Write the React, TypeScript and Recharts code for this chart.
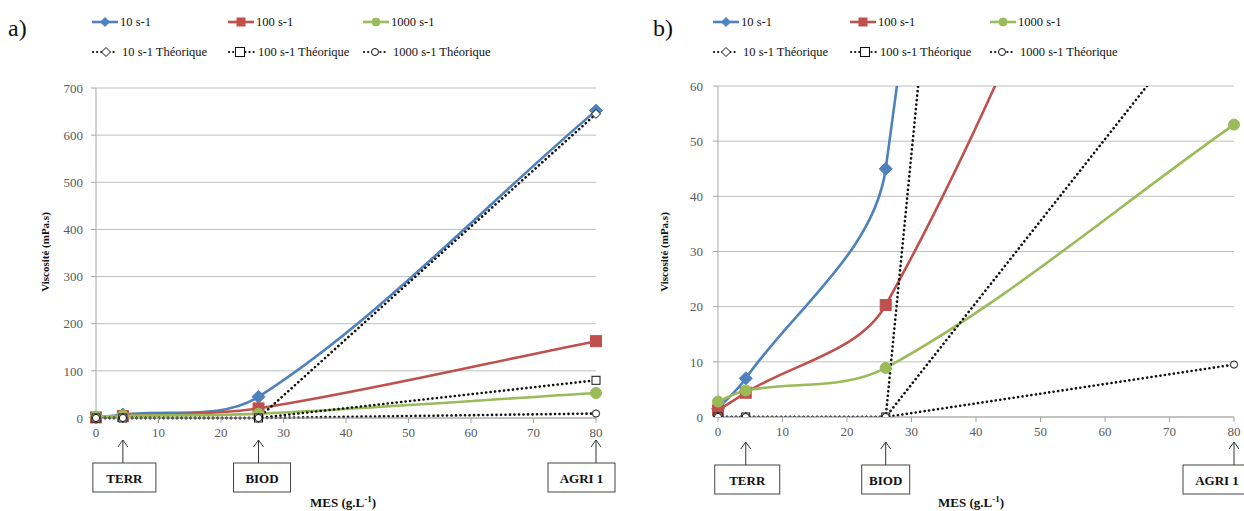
import React from 'react';
import { LineChart, Line, XAxis, YAxis, CartesianGrid, ReferenceDot } from 'recharts';

// ---- data ----
const mes = [0, 4.3, 26, 80];
const visc10 = [1.5, 7, 45, 652];
const visc100 = [1.2, 4.4, 20.3, 163];
const visc1000 = [2.8, 4.8, 8.9, 53];
const theo10 = [0, 0, 0, 645];
const theo100 = [0, 0, 0, 80];
const theo1000 = [0, 0, 0, 9.5];
const xTicks = [0, 10, 20, 30, 40, 50, 60, 70, 80];
const yTicksA = [0, 100, 200, 300, 400, 500, 600, 700];
const yTicksB = [0, 10, 20, 30, 40, 50, 60];
const seriesNames = ['10 s-1', '100 s-1', '1000 s-1'];
const theoNames = ['10 s-1 Théorique', '100 s-1 Théorique', '1000 s-1 Théorique'];
const siteX = [4.3, 26, 80];
const siteLabels = ['TERR', 'BIOD', 'AGRI 1'];

const data = mes.map((x, i) => ({
  x,
  s10: visc10[i],
  s100: visc100[i],
  s1000: visc1000[i],
  t10: theo10[i],
  t100: theo100[i],
  t1000: theo1000[i],
}));

const FONT = '"Liberation Serif", "Times New Roman", serif';
const BLUE = '#4F81BD';
const RED = '#C0504D';
const GREEN = '#9BBB59';

// Excel-like smoothed curve (Bezier with chord-length scaled tangents)
function excelSmooth(context: any) {
  let pts: number[][] = [];
  return {
    areaStart() {},
    areaEnd() {},
    lineStart() {
      pts = [];
    },
    point(x: number, y: number) {
      pts.push([+x, +y]);
    },
    lineEnd() {
      const n = pts.length;
      if (!n) return;
      context.moveTo(pts[0][0], pts[0][1]);
      if (n === 1) return;
      const d = (a: number[], b: number[]) => Math.hypot(b[0] - a[0], b[1] - a[1]);
      for (let i = 0; i < n - 1; i++) {
        const p0 = pts[i - 1] ?? pts[i];
        const p1 = pts[i];
        const p2 = pts[i + 1];
        const p3 = pts[i + 2] ?? pts[i + 1];
        const d01 = d(p0, p1);
        const d12 = d(p1, p2);
        const d23 = d(p2, p3);
        const f1 = d01 + d12 > 0 ? d12 / (d01 + d12) / 3 : 0;
        const f2 = d12 + d23 > 0 ? d12 / (d12 + d23) / 3 : 0;
        const c1x = p1[0] + (p2[0] - p0[0]) * f1;
        const c1y = p1[1] + (p2[1] - p0[1]) * f1;
        const c2x = p2[0] - (p3[0] - p1[0]) * f2;
        const c2y = p2[1] - (p3[1] - p1[1]) * f2;
        context.bezierCurveTo(c1x, c1y, c2x, c2y, p2[0], p2[1]);
      }
    },
  };
}

type Kind = 'diamond' | 'square' | 'circle';

function markerEl(kind: Kind, cx: number, cy: number, s: number, fill: string, stroke: string, key?: any) {
  if (kind === 'diamond') {
    return (
      <path key={key} d={`M${cx},${cy - s}L${cx + s},${cy}L${cx},${cy + s}L${cx - s},${cy}Z`} fill={fill} stroke={stroke} strokeWidth={1} />
    );
  }
  if (kind === 'square') {
    return <rect key={key} x={cx - s} y={cy - s} width={2 * s} height={2 * s} fill={fill} stroke={stroke} strokeWidth={1} />;
  }
  return <circle key={key} cx={cx} cy={cy} r={s} fill={fill} stroke={stroke} strokeWidth={1} />;
}

const dotFn = (kind: Kind, s: number, fill: string, stroke: string) => (p: any) => {
  const { cx, cy, index } = p;
  if (cx == null || cy == null || isNaN(cx) || isNaN(cy)) return <g key={`e${index}`} />;
  return markerEl(kind, cx, cy, s, fill, stroke, `m${index}`);
};

const siteShape = (label: string, dx: number, w: number, arrowOff: number, boxOff: number) => (props: any) => {
  const { cx, cy } = props;
  if (cx == null || cy == null) return <g />;
  const aTop = cy + arrowOff;
  const bTop = cy + boxOff;
  const h = 29;
  const left = cx + dx;
  return (
    <g>
      <line x1={cx} y1={aTop} x2={cx} y2={bTop} stroke="#333" strokeWidth={1} />
      <polyline points={`${cx - 5},${aTop + 7} ${cx},${aTop} ${cx + 5},${aTop + 7}`} fill="none" stroke="#333" strokeWidth={1} />
      <rect x={left} y={bTop} width={w} height={h} fill="#fff" stroke="#444" strokeWidth={1} />
      <text x={left + w / 2} y={bTop + h / 2 + 1} textAnchor="middle" dominantBaseline="central" fontWeight="bold" fontSize={13} fontFamily={FONT} fill="#111">
        {label}
      </text>
    </g>
  );
};

const xTick = (p: any) => (
  <text x={p.x} y={p.y} dy="0.71em" textAnchor="middle" fontSize={13} fontFamily={FONT} fill="#595959">
    {p.payload.value}
  </text>
);
const yTick = (p: any) => (
  <text x={p.x} y={p.y} dy="0.36em" textAnchor="end" fontSize={13} fontFamily={FONT} fill="#595959">
    {p.payload.value}
  </text>
);

const DOTTED = '0.1 4.4';

function Panel(props: {
  yMax: number;
  yTicks: number[];
  width: number;
  margin: any;
  tickGap: number;
  boxes: { dx: number; w: number }[];
  arrowOff: number;
  boxOff: number;
  clip: boolean;
}) {
  const { yMax, yTicks, width, margin, tickGap, boxes, arrowOff, boxOff, clip } = props;
  return (
    <LineChart width={width} height={511} data={data} margin={margin}>
      <CartesianGrid vertical={false} stroke="#BFBFBF" strokeWidth={1} />
      <XAxis
        type="number"
        dataKey="x"
        domain={[0, 80]}
        ticks={xTicks}
        height={30}
        tick={xTick}
        tickSize={5}
        tickMargin={5}
        axisLine={{ stroke: '#A6A6A6' }}
        tickLine={{ stroke: '#A6A6A6' }}
      />
      <YAxis
        type="number"
        domain={[0, yMax]}
        ticks={yTicks}
        width={40}
        allowDataOverflow={clip}
        tick={yTick}
        tickSize={5}
        tickMargin={tickGap}
        axisLine={{ stroke: '#A6A6A6' }}
        tickLine={{ stroke: '#A6A6A6' }}
      />
      <Line dataKey="s10" type={excelSmooth as any} stroke={BLUE} strokeWidth={2.6} dot={dotFn('diamond', 6.5, BLUE, BLUE)} activeDot={false} isAnimationActive={false} />
      <Line dataKey="s100" type={excelSmooth as any} stroke={RED} strokeWidth={2.6} dot={dotFn('square', 5.5, RED, RED)} activeDot={false} isAnimationActive={false} />
      <Line dataKey="s1000" type={excelSmooth as any} stroke={GREEN} strokeWidth={2.6} dot={dotFn('circle', 5.5, GREEN, GREEN)} activeDot={false} isAnimationActive={false} />
      <Line dataKey="t10" type="linear" stroke="#111" strokeWidth={2.6} strokeDasharray={DOTTED} strokeLinecap="round" dot={dotFn('diamond', 4.5, '#fff', '#111')} activeDot={false} isAnimationActive={false} />
      <Line dataKey="t100" type="linear" stroke="#111" strokeWidth={2.6} strokeDasharray={DOTTED} strokeLinecap="round" dot={dotFn('square', 4, '#fff', '#111')} activeDot={false} isAnimationActive={false} />
      <Line dataKey="t1000" type="linear" stroke="#111" strokeWidth={2.6} strokeDasharray={DOTTED} strokeLinecap="round" dot={dotFn('circle', 3.6, '#fff', '#111')} activeDot={false} isAnimationActive={false} />
      {siteX.map((sx, i) => (
        <ReferenceDot
          key={siteLabels[i]}
          x={sx}
          y={0}
          ifOverflow="visible"
          shape={siteShape(siteLabels[i], boxes[i].dx, boxes[i].w, arrowOff, boxOff)}
        />
      ))}
    </LineChart>
  );
}

function LegendItem(props: { left: number; top: number; color: string; kind: Kind; solid: boolean; iconW: number; markX: number; label: string; textX: number }) {
  const { left, top, color, kind, solid, iconW, markX, label, textX } = props;
  return (
    <div style={{ position: 'absolute', left, top: top - 8, height: 16, width: 160 }}>
      <svg width={iconW + 2} height={16} style={{ position: 'absolute', left: 0, top: 0, overflow: 'visible' }}>
        {solid ? (
          <line x1={0} y1={8} x2={iconW} y2={8} stroke={color} strokeWidth={2.6} />
        ) : (
          <line x1={1} y1={8} x2={iconW} y2={8} stroke="#111" strokeWidth={2.2} strokeDasharray="0.1 4" strokeLinecap="round" />
        )}
        {solid
          ? markerEl(kind, markX, 8, kind === 'diamond' ? 4.5 : 4, color, color)
          : markerEl(kind, markX, 8, kind === 'diamond' ? 4.5 : kind === 'square' ? 4.5 : 3.5, '#fff', '#111')}
      </svg>
      <span style={{ position: 'absolute', left: textX, top: 0, lineHeight: '16px', fontSize: 12.5, fontFamily: FONT, color: '#111', whiteSpace: 'nowrap' }}>
        {label}
      </span>
    </div>
  );
}

function Legend(props: { x0: number[]; xRow2: { mark: number; text: number; w: number }[] }) {
  const colors = [BLUE, RED, GREEN];
  const kinds: Kind[] = ['diamond', 'square', 'circle'];
  return (
    <>
      {seriesNames.map((n, i) => (
        <LegendItem key={n} left={props.x0[i]} top={22} color={colors[i]} kind={kinds[i]} solid iconW={26} markX={13} label={n} textX={28} />
      ))}
      {theoNames.map((n, i) => (
        <LegendItem
          key={n}
          left={props.x0[i]}
          top={52}
          color="#111"
          kind={kinds[i]}
          solid={false}
          iconW={props.xRow2[i].w}
          markX={props.xRow2[i].mark}
          label={n}
          textX={props.xRow2[i].text}
        />
      ))}
    </>
  );
}

function AxisTitles(props: { yLabelX: number; xLabelX: number }) {
  return (
    <>
      <div
        style={{
          position: 'absolute',
          left: props.yLabelX - 60,
          top: 252 - 7,
          width: 120,
          height: 14,
          lineHeight: '14px',
          textAlign: 'center',
          transform: 'rotate(-90deg)',
          fontSize: 11,
          fontWeight: 'bold',
          fontFamily: FONT,
          color: '#111',
        }}
      >
        Viscosité (mPa.s)
      </div>
      <div
        style={{
          position: 'absolute',
          left: props.xLabelX,
          top: 496,
          lineHeight: '14px',
          fontSize: 13,
          fontWeight: 'bold',
          fontFamily: FONT,
          color: '#111',
          whiteSpace: 'nowrap',
        }}
      >
        MES (g.L<span style={{ fontSize: 9, position: 'relative', top: -5 }}>-1</span>)
      </div>
    </>
  );
}

export default function App() {
  return (
    <div style={{ position: 'absolute', left: 0, top: 0, width: 1244, height: 511, background: '#fff', overflow: 'hidden', fontFamily: FONT }}>
      <div style={{ position: 'absolute', left: 0, top: 0 }}>
        <Panel
          yMax={700}
          yTicks={yTicksA}
          width={620}
          margin={{ top: 88, right: 24, left: 56, bottom: 63 }}
          tickGap={8}
          boxes={[{ dx: -30, w: 63 }, { dx: -25, w: 57 }, { dx: -48, w: 67 }]}
          arrowOff={22}
          boxOff={45}
          clip={false}
        />
      </div>
      <div style={{ position: 'absolute', left: 620, top: 0 }}>
        <Panel
          yMax={60}
          yTicks={yTicksB}
          width={624}
          margin={{ top: 86, right: 10, left: 58, bottom: 64 }}
          tickGap={10}
          boxes={[{ dx: -31, w: 65 }, { dx: -24, w: 48 }, { dx: -51, w: 68 }]}
          arrowOff={25}
          boxOff={48}
          clip={true}
        />
      </div>
      <div style={{ position: 'absolute', left: 8, top: 14, fontSize: 24, lineHeight: '28px', fontFamily: FONT, color: '#111' }}>a)</div>
      <div style={{ position: 'absolute', left: 653, top: 14, fontSize: 24, lineHeight: '28px', fontFamily: FONT, color: '#111' }}>b)</div>
      <div style={{ position: 'absolute', left: 0, top: 0 }}>
        <Legend x0={[92, 228, 363]} xRow2={[{ w: 24, mark: 14, text: 30 }, { w: 28, mark: 12, text: 30 }, { w: 24, mark: 12, text: 30 }]} />
      </div>
      <div style={{ position: 'absolute', left: 0, top: 0 }}>
        <Legend x0={[713, 850, 990]} xRow2={[{ w: 24, mark: 13, text: 30 }, { w: 28, mark: 15, text: 30 }, { w: 24, mark: 12, text: 30 }]} />
      </div>
      <AxisTitles yLabelX={45} xLabelX={310} />
      <AxisTitles yLabelX={664} xLabelX={938} />
    </div>
  );
}
